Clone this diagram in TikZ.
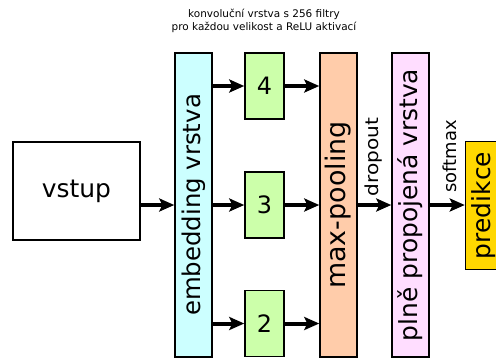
\documentclass[tikz,border=0pt]{standalone}
\usepackage{fontspec}
\setmainfont{DejaVu Sans}
\usetikzlibrary{arrows.meta}
\definecolor{embc}{HTML}{CCFFFF}
\definecolor{convc}{HTML}{CCFFAA}
\definecolor{poolc}{HTML}{FFCCAA}
\definecolor{densec}{HTML}{FFDDFF}
\definecolor{predc}{HTML}{FFD700}
\newcommand{\fs}[1]{\fontsize{#1}{#1}\selectfont}
\begin{document}
\begin{tikzpicture}[x=1bp,y=-1bp,
  box/.style={draw=black,line width=1.5bp,inner sep=0pt,font=\fs{24}},
  tall/.style={box,minimum width=37bp,minimum height=304bp},
  conv/.style={box,fill=convc,minimum width=39bp,minimum height=66bp,font=\fs{24}},
  arr/.style={-{Stealth[length=15bp,width=13bp,inset=3bp]},line width=4bp},
  lab/.style={font=\fs{18},rotate=90,anchor=west}]
\useasboundingbox (0,0) rectangle (496,361);
\node[box,minimum width=127bp,minimum height=98bp,font=\fs{25}] (in) at (76.5,191) {vstup};
\node[tall,fill=embc,font=\fs{24.5}] (emb) at (193.5,205) {\rotatebox{90}{embedding vrstva}};
\node[conv] (c4) at (264.5,86) {4};
\node[conv] (c3) at (264.5,205) {3};
\node[conv] (c2) at (264.5,323.5) {2};
\node[tall,fill=poolc,font=\fs{27}] (pool) at (338.5,205) {\rotatebox{90}{max-pooling}};
\node[tall,fill=densec,font=\fs{25}] (dense) at (410.5,205) {\rotatebox{90}{plně propojená vrstva}};
\node[box,fill=predc,minimum width=37bp,minimum height=128bp,font=\fs{25}] (pred) at (484,205.5) {\rotatebox{90}{predikce}};
\node[align=center,font=\fontsize{10.5}{13}\selectfont] (title) at (264,20.5) {konvoluční vrstva s 256 filtry\\pro každou velikost a ReLU aktivací};
\draw[arr] (in.east|-emb) -- (emb.west);
\draw[arr] (emb.east|-c4) -- (c4.west);
\draw[arr] (emb.east|-c3) -- (c3.west);
\draw[arr] (emb.east|-c2) -- (c2.west);
\draw[arr] (c4.east) -- (pool.west|-c4);
\draw[arr] (c3.east) -- (pool.west|-c3);
\draw[arr] (c2.east) -- (pool.west|-c2);
\draw[arr] (pool.east) -- (dense.west);
\draw[arr] (dense.east) -- (pred.west|-dense.east);
\node[lab] (dl) at (373.5,200) {\scalebox{1.12}[1]{dropout}};
\node[lab] (sl) at (450,196) {softmax};
\end{tikzpicture}
\end{document}
